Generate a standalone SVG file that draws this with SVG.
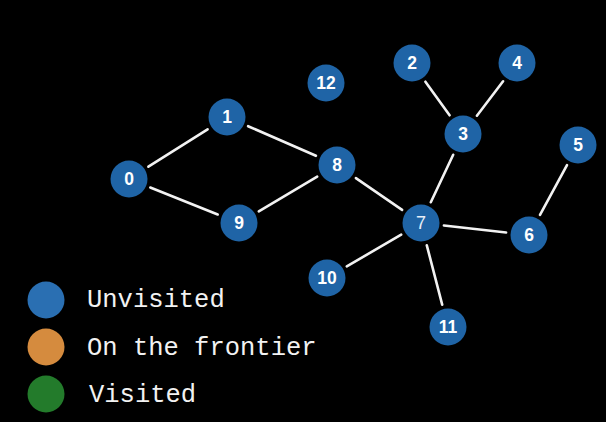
<svg xmlns="http://www.w3.org/2000/svg" width="606" height="422" viewBox="0 0 606 422">
<style>
.edge{stroke:#f2f2f2;stroke-width:2.6;stroke-linecap:round;fill:none}
.node circle{fill:#1f64a6}
.node text{fill:#ffffff;font-family:"Liberation Sans",Arial,sans-serif;font-size:17.5px;font-weight:bold;text-anchor:middle;dominant-baseline:central}
.node text.thin{font-weight:normal;font-size:18px;fill:#e8eef8}
.legend text{fill:#f2f2f2;font-family:"Liberation Mono","DejaVu Sans Mono",monospace;font-size:25.5px}
</style>
<rect width="606" height="422" fill="#000000"/>
<g id="connectors">
<line class="edge" x1="148.4" y1="166.7" x2="207.6" y2="129.3"/>
<line class="edge" x1="150.3" y1="187.5" x2="217.7" y2="214.5"/>
<line class="edge" x1="248.1" y1="126.2" x2="315.9" y2="155.8"/>
<line class="edge" x1="258.8" y1="211.3" x2="317.2" y2="176.7"/>
<line class="edge" x1="355.9" y1="178.1" x2="402.1" y2="209.9"/>
<line class="edge" x1="430.8" y1="202.2" x2="453.2" y2="154.8"/>
<line class="edge" x1="449.6" y1="115.3" x2="425.4" y2="81.7"/>
<line class="edge" x1="476.9" y1="115.7" x2="503.1" y2="81.3"/>
<line class="edge" x1="443.9" y1="225.5" x2="506.1" y2="232.5"/>
<line class="edge" x1="540" y1="214.8" x2="567" y2="165.2"/>
<line class="edge" x1="401.2" y1="234.6" x2="346.8" y2="266.4"/>
<line class="edge" x1="426.8" y1="245.3" x2="442.2" y2="304.7"/>
</g>
<g id="node0" class="node"><circle cx="129" cy="179" r="18.5"/><text x="129" y="179">0</text></g>
<g id="node1" class="node"><circle cx="227" cy="117" r="18.5"/><text x="227" y="117">1</text></g>
<g id="node2" class="node"><circle cx="412" cy="63" r="18.5"/><text x="412" y="63">2</text></g>
<g id="node3" class="node"><circle cx="463" cy="134" r="18.5"/><text x="463" y="134">3</text></g>
<g id="node4" class="node"><circle cx="517" cy="63" r="18.5"/><text x="517" y="63">4</text></g>
<g id="node5" class="node"><circle cx="578" cy="145" r="18.5"/><text x="578" y="145">5</text></g>
<g id="node6" class="node"><circle cx="529" cy="235" r="18.5"/><text x="529" y="235">6</text></g>
<g id="node7" class="node"><circle cx="421" cy="223" r="18.5"/><text class="thin" x="421" y="223">7</text></g>
<g id="node8" class="node"><circle cx="337" cy="165" r="18.5"/><text x="337" y="165">8</text></g>
<g id="node9" class="node"><circle cx="239" cy="223" r="18.5"/><text x="239" y="223">9</text></g>
<g id="node10" class="node"><circle cx="327" cy="278" r="18.5"/><text x="327" y="278">10</text></g>
<g id="node11" class="node"><circle cx="448" cy="327" r="18.5"/><text x="448" y="327">11</text></g>
<g id="node12" class="node"><circle cx="326" cy="83" r="18.5"/><text x="326" y="83">12</text></g>
<g id="legend" class="legend">
<circle cx="46" cy="300" r="18.5" fill="#2a6fb2"/>
<text x="87" y="307">Unvisited</text>
<circle cx="46" cy="347" r="18.5" fill="#d58b3e"/>
<text x="87" y="355">On the frontier</text>
<circle cx="46" cy="394" r="18.5" fill="#237b2b"/>
<text x="89" y="402">Visited</text>
</g>
</svg>
